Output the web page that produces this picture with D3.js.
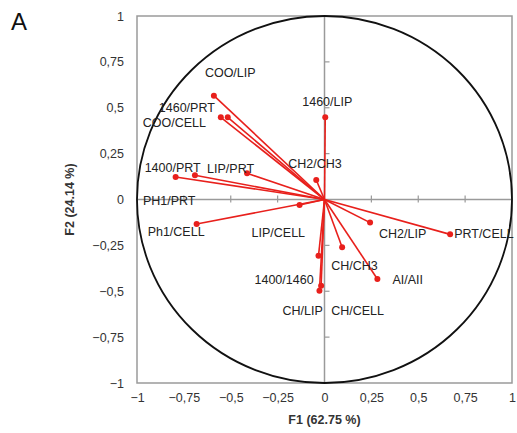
<!DOCTYPE html>
<html>
<head>
<meta charset="utf-8">
<script src="https://cdn.jsdelivr.net/npm/d3@7"></script>
<style>
  html, body { margin: 0; padding: 0; background: #fff; }
  svg { display: block; }
</style>
</head>
<body>
<svg id="chart" width="517" height="433"></svg>
<script>
// ---- data ----
const variables = ["COO/LIP", "1460/PRT", "COO/CELL", "1400/PRT", "PH1/PRT", "LIP/PRT",
  "CH2/CH3", "1460/LIP", "LIP/CELL", "Ph1/CELL", "1400/1460", "CH/CELL", "CH/LIP",
  "CH2/LIP", "CH/CH3", "AI/AII", "PRT/CELL"];
const f1 = [-0.59, -0.553, -0.516, -0.794, -0.691, -0.413,
  -0.044, 0.004, -0.133, -0.682, -0.032, -0.018, -0.027,
  0.243, 0.094, 0.282, 0.67];
const f2 = [0.566, 0.448, 0.448, 0.123, 0.132, 0.143,
  0.106, 0.448, -0.03, -0.134, -0.306, -0.47, -0.497,
  -0.126, -0.26, -0.433, -0.19];
const xTicks = [-1, -0.75, -0.5, -0.25, 0, 0.25, 0.5, 0.75, 1];
const yTicks = [-1, -0.75, -0.5, -0.25, 0, 0.25, 0.5, 0.75, 1];
const xTitle = "F1 (62.75 %)";
const yTitle = "F2 (24.14 %)";
const panelLetter = "A";

// label placement offsets (px, from point to label's left/middle)
const labelDx = [-9, -62, -85, -31, -52, -40, -28, -23, -48, -49, -64, 10, -37, 9, -11, 15, 4];
const labelDy = [-23, -10, 5, -9, 25, -5, -16, -16, 28, 8, 24, 25, 20, 11, 18, 1, -1];

// ---- drawing ----
const svg = d3.select("#chart");
const font = "'Liberation Sans', Arial, sans-serif";
const x = d3.scaleLinear().domain([-1, 1]).range([137, 512]);
const y = d3.scaleLinear().domain([-1, 1]).range([383, 16]);
const fmt = d => (d === 0 ? "0" : String(d).replace(".", ",").replace("-", "\u2212"));

// frame
svg.append("rect")
  .attr("x", x(-1)).attr("y", y(1))
  .attr("width", x(1) - x(-1)).attr("height", y(-1) - y(1))
  .attr("fill", "none").attr("stroke", "#9a9a9a").attr("stroke-width", 1.5);

// zero lines
svg.append("line").attr("x1", x(-1)).attr("x2", x(1)).attr("y1", y(0)).attr("y2", y(0))
  .attr("stroke", "#9a9a9a").attr("stroke-width", 1.5);
svg.append("line").attr("x1", x(0)).attr("x2", x(0)).attr("y1", y(1)).attr("y2", y(-1))
  .attr("stroke", "#9a9a9a").attr("stroke-width", 1.5);

// small ticks on zero lines
svg.append("g").selectAll("line").data(xTicks.filter(d => Math.abs(d) !== 1 && d !== 0))
  .join("line")
  .attr("x1", d => x(d)).attr("x2", d => x(d))
  .attr("y1", y(0) - 4).attr("y2", y(0) + 3)
  .attr("stroke", "#9a9a9a").attr("stroke-width", 1.2);
svg.append("g").selectAll("line").data(yTicks.filter(d => Math.abs(d) !== 1 && d !== 0))
  .join("line")
  .attr("x1", x(0)).attr("x2", x(0) + 5)
  .attr("y1", d => y(d)).attr("y2", d => y(d))
  .attr("stroke", "#9a9a9a").attr("stroke-width", 1.2);

// axes (labels)
const gx = svg.append("g").attr("transform", `translate(0,${y(-1)})`)
  .call(d3.axisBottom(x).tickValues(xTicks).tickFormat(fmt).tickSize(0).tickPadding(10));
const gy = svg.append("g").attr("transform", `translate(${x(-1)},0)`)
  .call(d3.axisLeft(y).tickValues(yTicks).tickFormat(fmt).tickSize(0).tickPadding(13));
[gx, gy].forEach(g => {
  g.select(".domain").remove();
  g.selectAll("text").attr("font-family", font).attr("font-size", 12.5).attr("fill", "#333");
});

// correlation circle
svg.append("ellipse")
  .attr("cx", x(0)).attr("cy", y(0))
  .attr("rx", x(1) - x(0)).attr("ry", y(0) - y(1))
  .attr("fill", "none").attr("stroke", "#111").attr("stroke-width", 1.8);

// vectors
const data = variables.map((name, i) => ({ name, f1: f1[i], f2: f2[i], dx: labelDx[i], dy: labelDy[i] }));
const red = "#e8201c";
svg.append("g").selectAll("line").data(data).join("line")
  .attr("x1", x(0)).attr("y1", y(0))
  .attr("x2", d => x(d.f1)).attr("y2", d => y(d.f2))
  .attr("stroke", red).attr("stroke-width", 1.6);
svg.append("g").selectAll("circle").data(data).join("circle")
  .attr("cx", d => x(d.f1)).attr("cy", d => y(d.f2)).attr("r", 3)
  .attr("fill", red);

// variable labels
svg.append("g").selectAll("text").data(data).join("text")
  .attr("x", d => x(d.f1) + d.dx).attr("y", d => y(d.f2) + d.dy)
  .attr("dy", "0.35em")
  .attr("font-family", font).attr("font-size", 12.5).attr("fill", "#222")
  .text(d => d.name);

// axis titles
svg.append("text")
  .attr("x", x(0)).attr("y", 424)
  .attr("text-anchor", "middle")
  .attr("font-family", font).attr("font-size", 12.5).attr("font-weight", "bold").attr("fill", "#333")
  .text(xTitle);
svg.append("text")
  .attr("transform", `translate(74,${y(0)}) rotate(-90)`)
  .attr("text-anchor", "middle")
  .attr("font-family", font).attr("font-size", 12.5).attr("font-weight", "bold").attr("fill", "#333")
  .text(yTitle);

// panel letter
svg.append("text")
  .attr("x", 11).attr("y", 30)
  .attr("font-family", font).attr("font-size", 24).attr("fill", "#111")
  .text(panelLetter);
</script>
</body>
</html>
